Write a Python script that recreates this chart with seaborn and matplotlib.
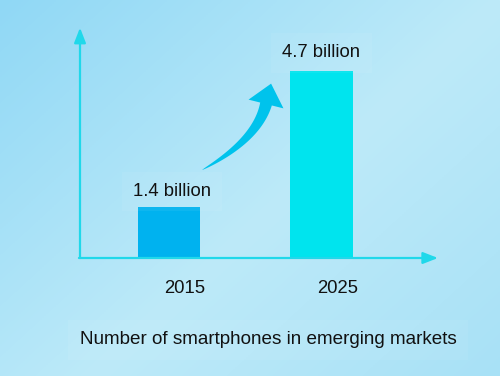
import numpy as np
import pandas as pd
import matplotlib
matplotlib.use("Agg")
import matplotlib.pyplot as plt
from matplotlib.patches import Polygon
from matplotlib.transforms import IdentityTransform, ScaledTranslation
import seaborn as sns

# ---- data ----
years = ["2015", "2025"]
values = [1.4, 4.7]
value_labels = ["1.4 billion", "4.7 billion"]
bar_colors = ["#00b2ef", "#00e4ee"]
title = "Number of smartphones in emerging markets"

df = pd.DataFrame({"year": years, "value": values})

sns.set_theme(style="white")
plt.rcParams["font.family"] = ["Liberation Sans", "DejaVu Sans"]

W, H, DPI = 500, 376, 100
fig = plt.figure(figsize=(W / DPI, H / DPI), dpi=DPI)

# background gradient
bg = fig.add_axes([0, 0, 1, 1], zorder=0)
yy, xx = np.mgrid[0:1:200j, 0:1:260j]
d = (xx * 0.55 + yy * 0.45)
c0 = np.array([0x90, 0xd8, 0xf5]) / 255
c1 = np.array([0xbd, 0xea, 0xf9]) / 255
c2 = np.array([0xa8, 0xe1, 0xf6]) / 255
t = np.clip(d / 0.55, 0, 1)[..., None]
img = np.where(d[..., None] < 0.55, c0 + (c1 - c0) * t,
               c1 + (c2 - c1) * np.clip((d[..., None] - 0.55) / 0.45, 0, 1))
bg.imshow(img, extent=[0, 1, 0, 1], aspect="auto", origin="upper")
bg.set_axis_off()

# main axes: x from 80 to 438 px, y from 258 to 30 px (image coords)
ax = fig.add_axes([80 / W, (H - 258) / H, (438 - 80) / W, (258 - 30) / H], zorder=1)
ax.patch.set_alpha(0)

sns.barplot(data=df, x="year", y="value", hue="year", palette=bar_colors,
            width=0.407, saturation=1, legend=False, ax=ax, zorder=3,
            linewidth=0, edgecolor="none")

ax.set_xlim(-0.5836, 1.764)
ax.set_ylim(0.1625, 5.70)
for s in ax.spines.values():
    s.set_visible(False)
ax.set_yticks([])
ax.set_xlabel("")
ax.set_ylabel("")
ax.tick_params(axis="x", length=0, pad=16, labelsize=13.3, labelcolor="#111111")
ax.set_xticks(range(len(years)))
ax.set_xticklabels(years)
for lab in ax.get_xticklabels():
    lab.set_transform(lab.get_transform() + ScaledTranslation(16 / DPI, 0, fig.dpi_scale_trans))

axis_color = "#20d8ea"
astyle = "-|>,head_length=0.9,head_width=0.35"
ax.annotate("", xy=(0, 1.01), xytext=(0, 0), xycoords="axes fraction",
            arrowprops=dict(arrowstyle=astyle, mutation_scale=10,
                            color=axis_color, lw=1.6, shrinkA=0, shrinkB=0))
ax.annotate("", xy=(1.0, 0), xytext=(-0.003, 0), xycoords="axes fraction",
            arrowprops=dict(arrowstyle=astyle, mutation_scale=10,
                            color=axis_color, lw=1.6, shrinkA=0, shrinkB=0))

# value labels
offsets = [5, 7]
for i, (v, lbl) in enumerate(zip(values, value_labels)):
    ax.annotate(lbl, xy=(i, v), xytext=(2 if i == 0 else 0, offsets[i]),
                textcoords="offset points", ha="center", va="bottom",
                fontsize=13.3, color="#111111",
                bbox=dict(boxstyle="square,pad=0.6", fc="white", ec="none", alpha=0.06))

# title
fig.text(268 / W, 1 - 340 / H, title, ha="center", va="center",
         fontsize=13.6, color="#111111",
         bbox=dict(boxstyle="square,pad=0.6", fc="white", ec="none", alpha=0.06))

# curved tapered arrow (pixel geometry, image coords -> display)
P0 = np.array([202.0, 170.0])
P1 = np.array([257.0, 140.0])
P2 = np.array([266.0, 104.0])
ts = np.linspace(0, 1, 60)
pts = ((1 - ts)[:, None] ** 2) * P0 + (2 * (1 - ts) * ts)[:, None] * P1 + (ts ** 2)[:, None] * P2
der = 2 * (1 - ts)[:, None] * (P1 - P0) + 2 * ts[:, None] * (P2 - P1)
nrm = np.stack([-der[:, 1], der[:, 0]], axis=1)
nrm /= np.linalg.norm(nrm, axis=1)[:, None]
wid = 12 * ts ** 0.7 / 2
left = pts + nrm * wid[:, None]
right = pts - nrm * wid[:, None]
dirv = der[-1] / np.linalg.norm(der[-1])
nv = np.array([-dirv[1], dirv[0]])
tip = P2 + dirv * 21
hb1 = P2 + nv * 18
hb2 = P2 - nv * 18
poly = np.vstack([left, hb1, tip, hb2, right[::-1]])
poly_disp = np.column_stack([poly[:, 0], H - poly[:, 1]])
fig.patches.append(Polygon(poly_disp, closed=True, transform=IdentityTransform(),
                           facecolor="#00c3ec", edgecolor="none", zorder=5))

fig.savefig("out.png", dpi=DPI)
